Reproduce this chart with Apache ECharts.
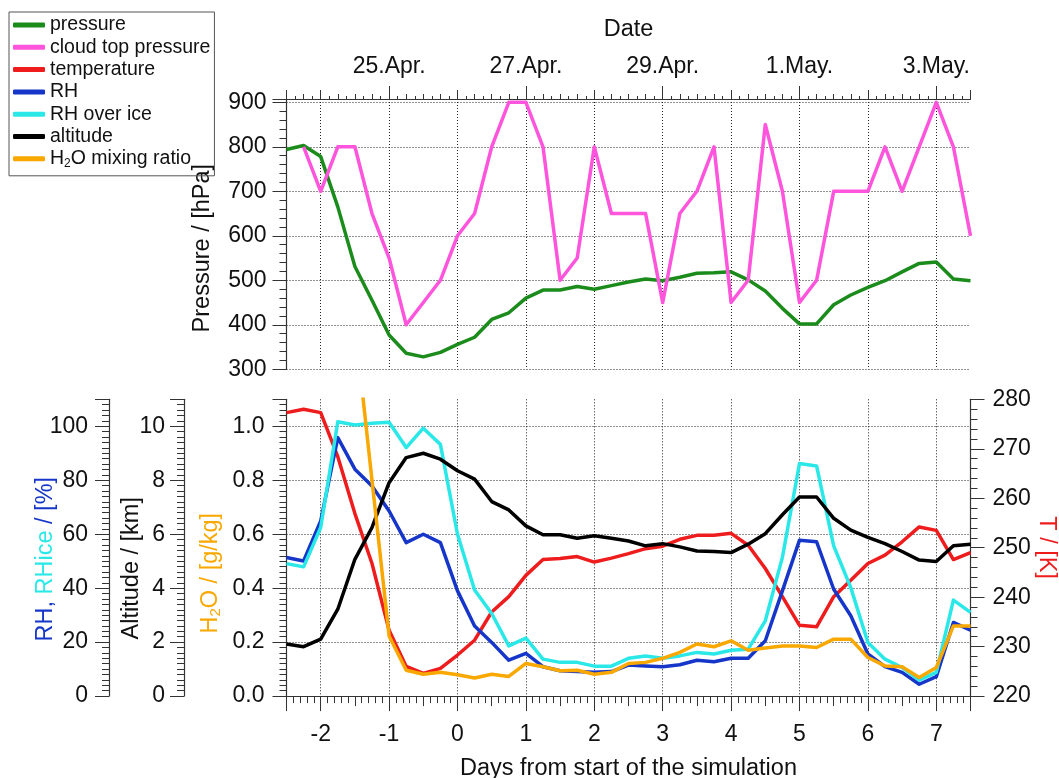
<!DOCTYPE html>
<html>
<head>
<meta charset="utf-8">
<script src="https://cdn.jsdelivr.net/npm/echarts@6/dist/echarts.min.js"></script>
<style>
html,body{margin:0;padding:0;background:#fff;}
#chart{width:1059px;height:778px;}
</style>
</head>
<body>
<div id="chart"></div>
<script>
// ---- data (6-hourly, days from start of the simulation) ----
const days = [-2.5,-2.25,-2,-1.75,-1.5,-1.25,-1,-0.75,-0.5,-0.25,0,0.25,0.5,0.75,1,1.25,1.5,1.75,2,2.25,2.5,2.75,3,3.25,3.5,3.75,4,4.25,4.5,4.75,5,5.25,5.5,5.75,6,6.25,6.5,6.75,7,7.25,7.5];
const pressure = [794,803,778,665,531,455,377,336,328,338,356,372,412,427,460,478,478,486,480,488,496,503,499,507,516,517,519,501,476,437,402,402,445,467,484,499,519,538,541,503,499];
const cloudTopPressure = [null,800,700,800,800,650,550,400,450,500,600,650,800,900,900,800,500,550,800,650,650,650,450,650,700,800,450,500,850,700,450,500,700,700,700,800,700,800,900,800,600];
const temperature = [277.3,278.0,277.3,268.4,256.9,246.8,233.3,226.0,224.6,225.6,228.3,231.3,237.0,240.1,244.4,247.6,247.8,248.2,247.1,247.9,248.8,249.8,250.3,251.7,252.5,252.5,252.9,250.5,245.8,240.1,234.3,234.0,240.1,243.4,246.8,248.5,251.2,254.2,253.5,247.6,249.0];
const rh = [51.4,50.1,64.9,95.8,84.1,77.9,68.6,56.9,60.0,56.9,39.0,26.0,19.9,13.3,15.8,10.9,9.4,9.1,8.8,9.1,11.5,11.2,10.9,11.6,13.3,12.7,14.0,14.0,20.5,39.0,57.8,57.2,39.6,29.8,15.6,10.9,8.8,4.4,7.2,27.3,24.4];
const rhIce = [49.1,47.9,62.5,101.7,100.5,101.1,101.5,92.1,99.3,93.3,60.0,39.3,30.6,18.6,21.5,13.7,12.5,12.5,11.1,11.1,14.0,14.9,14.0,14.9,16.2,15.6,17.0,17.4,27.9,51.4,86.2,85.3,55.7,40.2,19.9,13.7,10.6,5.9,8.8,35.6,31.0];
const altitude = [1.93,1.83,2.11,3.22,5.07,6.25,7.91,8.84,9.0,8.78,8.35,8.04,7.21,6.90,6.31,5.98,5.98,5.85,5.94,5.85,5.75,5.57,5.65,5.53,5.38,5.36,5.32,5.63,6.02,6.72,7.38,7.38,6.59,6.15,5.88,5.65,5.36,5.04,4.99,5.57,5.63];
const h2oMixingRatio = [null,null,null,null,1.38,0.80,0.223,0.096,0.081,0.088,0.079,0.067,0.081,0.073,0.121,0.109,0.094,0.096,0.081,0.088,0.121,0.125,0.140,0.162,0.193,0.183,0.205,0.170,0.178,0.186,0.186,0.180,0.211,0.211,0.143,0.112,0.109,0.069,0.106,0.260,0.260];
const dateTickDays = [-1,1,3,5,7];
const dateTickLabels = ['25.Apr.','27.Apr.','29.Apr.','1.May.','3.May.'];

// ---- styling ----
const FONT = "'Liberation Sans', Arial, Helvetica, sans-serif";
const AX = '#333';
const C = {green:'#1b8c1b', magenta:'#ff55dd', red:'#ee1c1c', blue:'#1536c8', cyan:'#2ae8e8', black:'#000000', orange:'#f8a800'};
const LBL = 23, NAME = 23.5;
const grid0 = {left:286.5, right:88.5, top:99, height:270.3};
const grid1 = {left:286.5, right:88.5, top:399.3, height:296.8};
const dotted = {show:true, lineStyle:{color:'#222', width:1, type:[1,2]}};
const pairs = arr => days.map((d,i)=>[d, arr[i]]);

const xRange = {type:'value', min:-2.5, max:7.5};
const noLine = {show:false};
const yLine = {show:true, onZero:false, lineStyle:{color:AX, width:1.2}};

const option = {
  animation:false,
  backgroundColor:'#fff',
  textStyle:{fontFamily:FONT, color:'#111'},
  grid:[
    Object.assign({outerBoundsMode:'none', containLabel:false}, grid0),
    Object.assign({outerBoundsMode:'none', containLabel:false}, grid1)
  ],
  legend:{
    orient:'vertical', left:9, top:12,
    padding:[2,4,6,4], itemGap:0.3,
    borderColor:'#555', borderWidth:1,
    icon:'roundRect', itemWidth:32, itemHeight:5,
    textStyle:{fontFamily:FONT, fontSize:19.5, lineHeight:22, color:'#111',
      rich:{n:{fontSize:19.5, lineHeight:22, color:'#111'}, s:{fontSize:12, lineHeight:12, verticalAlign:'bottom', color:'#111'}}},
    formatter: name => name === 'H2O mixing ratio' ? '{n|H}{s|2}{n|O mixing ratio}' : name,
    data:['pressure','cloud top pressure','temperature','RH','RH over ice','altitude','H2O mixing ratio']
  },
  xAxis:[
    Object.assign({}, xRange, {gridIndex:0, position:'top', minInterval:1, maxInterval:1,
      axisLine:{show:true, onZero:false, lineStyle:{color:AX, width:1.2}},
      axisTick:{show:true, length:9, lineStyle:{color:AX}},
      minorTick:{show:true, splitNumber:8, length:3, lineStyle:{color:AX}},
      splitLine:Object.assign({showMinLine:false, showMaxLine:false}, dotted),
      axisLabel:{show:false},
      name:'Date', nameLocation:'middle', nameGap:57.5, nameMoveOverlap:false,
      nameTextStyle:{fontSize:NAME, color:'#111'}}),
    Object.assign({}, xRange, {gridIndex:0, position:'top', minInterval:0.25, maxInterval:0.25,
      axisLine:{show:false, onZero:false}, axisTick:{show:true, length:5, lineStyle:{color:AX}},
      splitLine:{show:false}, axisLabel:{show:false}}),
    Object.assign({}, xRange, {gridIndex:0, position:'top',
      axisLine:{show:false, onZero:false},
      axisTick:{show:true, length:13, customValues:dateTickDays, lineStyle:{color:AX}},
      axisLabel:{show:true, customValues:dateTickDays, margin:21, fontSize:LBL, color:'#111',
        formatter: v => { const i = dateTickDays.indexOf(v); return i >= 0 ? dateTickLabels[i] : ''; }},
      splitLine:{show:false}}),
    Object.assign({}, xRange, {gridIndex:1, position:'bottom', minInterval:1, maxInterval:1,
      axisLine:{show:true, onZero:false, lineStyle:{color:AX, width:1.2}},
      axisTick:{show:true, length:15, lineStyle:{color:AX}},
      minorTick:{show:true, splitNumber:10, length:7, lineStyle:{color:AX}},
      splitLine:Object.assign({showMinLine:false, showMaxLine:false}, dotted),
      axisLabel:{show:true, margin:27, fontSize:LBL, color:'#111', showMinLabel:false, showMaxLabel:false,
        formatter: v => Number.isInteger(v) ? String(v) : ''},
      name:'Days from start of the simulation', nameLocation:'middle', nameGap:60, nameMoveOverlap:false,
      nameTextStyle:{fontSize:NAME, color:'#111'}}),
    Object.assign({}, xRange, {gridIndex:1, position:'bottom', minInterval:0.5, maxInterval:0.5,
      axisLine:{show:false, onZero:false}, axisTick:{show:true, length:10, lineStyle:{color:AX}},
      splitLine:{show:false}, axisLabel:{show:false}})
  ],
  yAxis:[
    {type:'value', gridIndex:0, position:'left', min:300, max:907.4, interval:100,
      axisLine:yLine,
      axisTick:{show:true, length:14, lineStyle:{color:AX}},
      minorTick:{show:true, splitNumber:5, length:7, lineStyle:{color:AX}},
      splitLine:Object.assign({showMaxLine:false}, dotted),
      axisLabel:{margin:20, fontSize:LBL, color:'#111', showMaxLabel:false},
      name:'Pressure / [hPa]', nameLocation:'middle', nameRotate:90, nameGap:72, nameMoveOverlap:false,
      nameTextStyle:{fontSize:NAME, color:'#111', padding:[0,28,0,0]}},
    {type:'value', gridIndex:1, position:'left', offset:0, min:0, max:1.1, interval:0.2,
      axisLine:yLine,
      axisTick:{show:true, length:14, lineStyle:{color:AX}},
      minorTick:{show:true, splitNumber:10, length:7, lineStyle:{color:AX}},
      splitLine:Object.assign({showMinLine:false, showMaxLine:false}, dotted),
      axisLabel:{margin:22, fontSize:LBL, color:'#111', showMaxLabel:false, formatter: v => v.toFixed(1)},
      name:'{o|H}{s|2}{o|O / [g/kg]}', nameLocation:'middle', nameRotate:90, nameGap:63, nameMoveOverlap:false,
      nameTextStyle:{padding:[0,51,0,0], rich:{
        o:{fontSize:NAME, lineHeight:26, color:C.orange, fontFamily:FONT},
        s:{fontSize:15, lineHeight:15, verticalAlign:'bottom', color:C.orange, fontFamily:FONT}}}},
    {type:'value', gridIndex:1, position:'left', offset:102.5, min:0, max:11, interval:2,
      axisLine:yLine,
      axisTick:{show:true, length:14, lineStyle:{color:AX}},
      minorTick:{show:true, splitNumber:10, length:7, lineStyle:{color:AX}},
      splitLine:{show:false},
      axisLabel:{margin:19, fontSize:LBL, color:'#111', showMaxLabel:false},
      name:'Altitude / [km]', nameLocation:'middle', nameRotate:90, nameGap:40, nameMoveOverlap:false,
      nameTextStyle:{fontSize:NAME, color:'#111', padding:[0,41,0,0]}},
    {type:'value', gridIndex:1, position:'left', offset:177.5, min:0, max:110, interval:20,
      axisLine:yLine,
      axisTick:{show:true, length:14, lineStyle:{color:AX}},
      minorTick:{show:true, splitNumber:10, length:7, lineStyle:{color:AX}},
      splitLine:{show:false},
      axisLabel:{margin:21, fontSize:LBL, color:'#111', showMaxLabel:false},
      name:'{b|RH, }{c|RHice}{b| / [%]}', nameLocation:'middle', nameRotate:90, nameGap:51, nameMoveOverlap:false,
      nameTextStyle:{padding:[0,23,0,0], rich:{
        b:{fontSize:NAME, color:C.blue, fontFamily:FONT},
        c:{fontSize:NAME, color:C.cyan, fontFamily:FONT}}}},
    {type:'value', gridIndex:1, position:'right', min:220, max:280, interval:10,
      axisLine:yLine,
      axisTick:{show:true, length:14, lineStyle:{color:AX}},
      minorTick:{show:true, splitNumber:5, length:7, lineStyle:{color:AX}},
      splitLine:{show:false},
      axisLabel:{margin:22, fontSize:LBL, color:'#111'},
      name:'T / [K]', nameLocation:'middle', nameRotate:-90, nameGap:64, nameMoveOverlap:false,
      nameTextStyle:{fontSize:NAME, color:C.red}}
  ],
  series:[
    {name:'pressure', type:'line', xAxisIndex:0, yAxisIndex:0, data:pairs(pressure), color:C.green},
    {name:'cloud top pressure', type:'line', xAxisIndex:0, yAxisIndex:0, data:pairs(cloudTopPressure), color:C.magenta},
    {name:'temperature', type:'line', xAxisIndex:3, yAxisIndex:4, data:pairs(temperature), color:C.red},
    {name:'RH', type:'line', xAxisIndex:3, yAxisIndex:3, data:pairs(rh), color:C.blue},
    {name:'RH over ice', type:'line', xAxisIndex:3, yAxisIndex:3, data:pairs(rhIce), color:C.cyan},
    {name:'altitude', type:'line', xAxisIndex:3, yAxisIndex:2, data:pairs(altitude), color:C.black},
    {name:'H2O mixing ratio', type:'line', xAxisIndex:3, yAxisIndex:1, data:pairs(h2oMixingRatio), color:C.orange}
  ].map(s => Object.assign(s, {showSymbol:false, symbol:'none', clip:true, connectNulls:false,
      lineStyle:{width:3.5, color:s.color, join:'round'}, itemStyle:{color:s.color}}))
};

const chart = echarts.init(document.getElementById('chart'), null, {renderer:'canvas'});
chart.setOption(option);
</script>
</body>
</html>
